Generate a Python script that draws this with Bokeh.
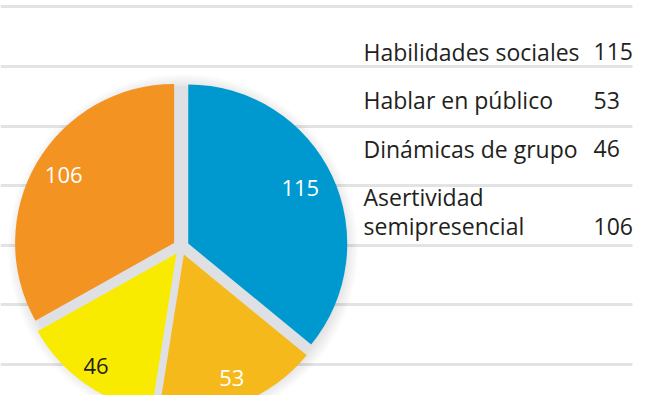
import math
from bokeh.plotting import figure
from bokeh.models import Range1d
from bokeh.core.properties import value
from bokeh.embed import file_html
from bokeh.resources import INLINE

# ---- data ----
categories = ["Habilidades sociales", "Hablar en público", "Dinámicas de grupo", "Asertividad\nsemipresencial"]
values = [115, 53, 46, 106]
colors = ["#0099cf", "#f6b91b", "#f8eb00", "#f39322"]
label_colors = ["#ffffff", "#ffffff", "#231f20", "#ffffff"]

# ---- layout (image pixel space, y measured from top) ----
W, H = 654, 411
def Y(y):
    return H - y

FONT = value("Open Sans")
grid_rows = [6, 66, 126, 185, 245, 304, 364]

p = figure(width=638, height=395, output_backend="svg", toolbar_location=None,
           x_range=Range1d(0, 638), y_range=Range1d(H - 395, H),
           min_border=0, outline_line_color=None)
p.axis.visible = False
p.grid.visible = False
p.background_fill_color = "#ffffff"
p.border_fill_color = "#ffffff"

# background rules
p.segment(x0=[0] * len(grid_rows), x1=[632] * len(grid_rows),
          y0=[Y(g) for g in grid_rows], y1=[Y(g) for g in grid_rows],
          line_color="#e3e3e4", line_width=3)

# pie geometry
cx, cy = 180.5, Y(246.5)
r = 159
explode = 8
label_frac = [0.83, 0.90, 0.935, 0.855]
label_dy = 3

# soft shadow
for i in range(10):
    p.circle(x=[cx + 2], y=[cy - 2], radius=r + 16 - i * 1.5,
             fill_color="#7a7d85", fill_alpha=0.025, line_color=None)
p.circle(x=[cx], y=[cy], radius=r + 2, fill_color="#dfe0e3", line_color=None)

total = sum(values)
start = 90.0
for v, c, lc, lf in zip(values, colors, label_colors, label_frac):
    span = v / total * 360.0
    a0 = start
    a1 = start - span
    mid = math.radians((a0 + a1) / 2)
    ox = cx + explode * math.cos(mid)
    oy = cy + explode * math.sin(mid)
    p.wedge(x=[ox], y=[oy], radius=r, start_angle=math.radians(a1), end_angle=math.radians(a0),
            direction="anticlock", fill_color=c, line_color=None)
    lr = r * lf
    p.text(x=[cx + lr * math.cos(mid)], y=[cy + lr * math.sin(mid) + label_dy], text=[str(v)],
           text_font=FONT, text_font_size="22px", text_color=lc,
           text_align="center", text_baseline="middle")
    start = a1

# legend text
lx, nx = 363, 593
base0, row_step, line_step = 51, 48.6, 28.7
for i, (cat, v) in enumerate(zip(categories, values)):
    lines = cat.split("\n")
    b = base0 + row_step * i
    for j, ln in enumerate(lines):
        p.text(x=[lx], y=[Y(b + j * line_step)], text=[ln],
               text_font=FONT, text_font_size="23px", text_color="#231f20",
               text_align="left", text_baseline="middle")
    p.text(x=[nx], y=[Y(b + (len(lines) - 1) * line_step)], text=[str(v)],
           text_font=FONT, text_font_size="23px", text_color="#231f20",
           text_align="left", text_baseline="middle")

open("out.html", "w").write(file_html(p, INLINE))
